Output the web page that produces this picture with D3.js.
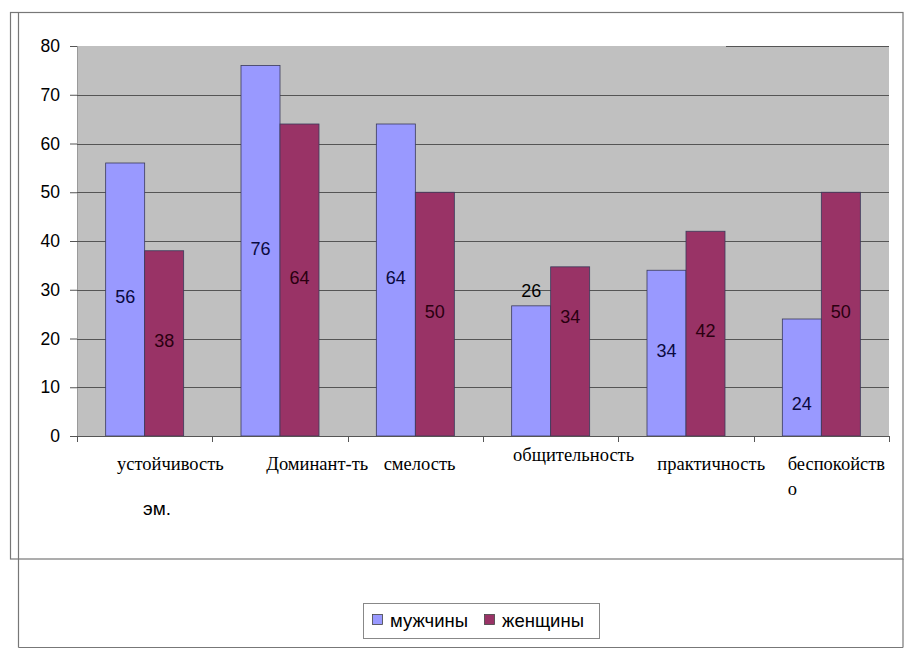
<!DOCTYPE html>
<html>
<head>
<meta charset="utf-8">
<script src="https://cdn.jsdelivr.net/npm/d3@7"></script>
<style>
  html, body { margin: 0; padding: 0; background: #fff; }
  svg { display: block; }
</style>
</head>
<body>
<svg id="chart" width="911" height="657"></svg>
<script>
// ---- data ----
const categories = ["устойчивость эм.", "Доминант-ть", "смелость", "общительность", "практичность", "беспокойство"];
const seriesNames = ["мужчины", "женщины"];
const menValues = [56, 76, 64, 26.7, 34, 24];
const womenValues = [38, 64, 50, 34.7, 42, 50];
const menLabels = ["56", "76", "64", "26", "34", "24"];
const womenLabels = ["38", "64", "50", "34", "42", "50"];
const yTicks = [0, 10, 20, 30, 40, 50, 60, 70, 80];

// ---- layout ----
const svg = d3.select("#chart");
const plot = { left: 77, right: 889, top: 46, bottom: 436 };
const colors = { "мужчины": "#9999FF", "женщины": "#993366" };
const labelColors = { "мужчины": "#0a0a40", "женщины": "#2a0010" };

// frames
const frame = svg.append("g").attr("fill", "none").attr("stroke", "#777").attr("stroke-width", 1.2);
frame.append("rect").attr("x", 10.5).attr("y", 12.5).attr("width", 892.5).attr("height", 546.5);
frame.append("line").attr("x1", 18.5).attr("x2", 18.5).attr("y1", 12.5).attr("y2", 647.5);
frame.append("line").attr("x1", 18.5).attr("x2", 903).attr("y1", 647.5).attr("y2", 647.5);
frame.append("line").attr("x1", 903).attr("x2", 903).attr("y1", 559).attr("y2", 647.5);

const y = d3.scaleLinear().domain([0, 80]).range([plot.bottom, plot.top]);
const x0 = d3.scaleBand().domain(categories).range([plot.left, plot.right]).padding(0);
const x1 = d3.scaleBand().domain(seriesNames).range([0, x0.bandwidth()]).paddingInner(0).paddingOuter(0.735);

// plot background
svg.append("rect").attr("x", plot.left).attr("y", plot.top)
  .attr("width", plot.right - plot.left).attr("height", plot.bottom - plot.top)
  .attr("fill", "#C0C0C0");
svg.append("line").attr("x1", plot.left + 0.5).attr("x2", plot.left + 0.5)
  .attr("y1", plot.top).attr("y2", plot.bottom).attr("stroke", "#9a9a9a");

// gridlines + y axis ticks
const yAxis = d3.axisLeft(y).tickValues(yTicks).tickSize(7).tickPadding(10).tickFormat(d3.format("d"));
const gy = svg.append("g").attr("transform", `translate(${plot.left},0)`).call(yAxis);
gy.select(".domain").remove();
gy.selectAll(".tick line").attr("stroke", "#555");
gy.selectAll(".tick text").attr("font-family", "Liberation Sans, Arial, sans-serif")
  .attr("font-size", 17.5).attr("fill", "#000");

svg.append("g").selectAll("line").data(yTicks.filter(d => d > 0)).join("line")
  .attr("x1", d => d === 80 ? 726 : plot.left).attr("x2", plot.right)
  .attr("y1", d => Math.round(y(d)) + 0.5).attr("y2", d => Math.round(y(d)) + 0.5)
  .attr("stroke", "#555").attr("stroke-width", 1);

// bars
const rows = categories.map((c, i) => ({
  cat: c,
  items: [
    { s: "мужчины", v: menValues[i], label: menLabels[i], i },
    { s: "женщины", v: womenValues[i], label: womenLabels[i], i }
  ]
}));

const groups = svg.append("g").selectAll("g").data(rows).join("g")
  .attr("transform", d => `translate(${x0(d.cat)},0)`);

groups.selectAll("rect").data(d => d.items).join("rect")
  .attr("x", d => x1(d.s)).attr("width", x1.bandwidth())
  .attr("y", d => y(d.v)).attr("height", d => y(0) - y(d.v))
  .attr("fill", d => colors[d.s]).attr("stroke", "#3a3a5a").attr("stroke-width", 0.8);

// label nudges (pixels, relative to bar centre)
const nudge = { "мужчины-3": { dy: -78, color: "#000" }, "женщины-3": { dy: -32 }, "мужчины-5": { dy: 29 } };
groups.selectAll("text").data(d => d.items).join("text")
  .attr("x", d => x1(d.s) + x1.bandwidth() / 2)
  .attr("y", d => {
    const n = nudge[d.s + "-" + d.i];
    return (y(d.v) + y(0)) / 2 + (n ? n.dy : 0) - 1;
  })
  .attr("dominant-baseline", "middle")
  .attr("text-anchor", "middle")
  .attr("font-family", "Liberation Sans, Arial, sans-serif").attr("font-size", 18)
  .attr("fill", d => { const n = nudge[d.s + "-" + d.i]; return n && n.color ? n.color : labelColors[d.s]; })
  .text(d => d.label);

// x axis
const xAxisLine = svg.append("g");
xAxisLine.append("line").attr("x1", plot.left).attr("x2", plot.right)
  .attr("y1", plot.bottom + 0.5).attr("y2", plot.bottom + 0.5).attr("stroke", "#555");
const boundaries = categories.map(c => x0(c)).concat([plot.right]);
xAxisLine.selectAll("line.tk").data(boundaries).join("line").attr("class", "tk")
  .attr("x1", d => Math.round(d) + 0.5).attr("x2", d => Math.round(d) + 0.5)
  .attr("y1", plot.bottom).attr("y2", plot.bottom + 6).attr("stroke", "#555");

// category labels (wrapped as in the original)
const catLines = [
  [{ t: "устойчивость", dx: 40, dy: 34, serif: true }, { t: "эм.", dx: 66, dy: 79, serif: false }],
  [{ t: "Доминант-ть", dx: 54, dy: 34, serif: true }],
  [{ t: "смелость", dx: 36, dy: 34, serif: true }],
  [{ t: "общительность", dx: 30, dy: 25, serif: true }],
  [{ t: "практичность", dx: 39, dy: 34, serif: true }],
  [{ t: "беспокойств", dx: 34, dy: 34, serif: true }, { t: "о", dx: 34, dy: 59, serif: true }]
];
const catG = svg.append("g");
categories.forEach((c, i) => {
  catLines[i].forEach(l => {
    catG.append("text")
      .attr("x", x0(c) + l.dx).attr("y", plot.bottom + l.dy)
      .attr("font-family", l.serif ? "Liberation Serif, Times New Roman, serif" : "Liberation Sans, Arial, sans-serif")
      .attr("font-size", l.serif ? 18.5 : 19).attr("fill", "#000")
      .text(l.t);
  });
});

// legend
const lg = svg.append("g");
lg.append("rect").attr("x", 363.5).attr("y", 603.5).attr("width", 236).attr("height", 35)
  .attr("fill", "#fff").attr("stroke", "#888");
const legendX = [372, 484];
seriesNames.forEach((s, i) => {
  lg.append("rect").attr("x", legendX[i] + 0.5).attr("y", 614.5).attr("width", 10).attr("height", 10)
    .attr("fill", colors[s]).attr("stroke", "#444").attr("stroke-width", 0.8);
  lg.append("text").attr("x", legendX[i] + 18).attr("y", 627)
    .attr("font-family", "Liberation Sans, Arial, sans-serif").attr("font-size", 18.5).attr("fill", "#000")
    .text(s);
});
</script>
</body>
</html>
